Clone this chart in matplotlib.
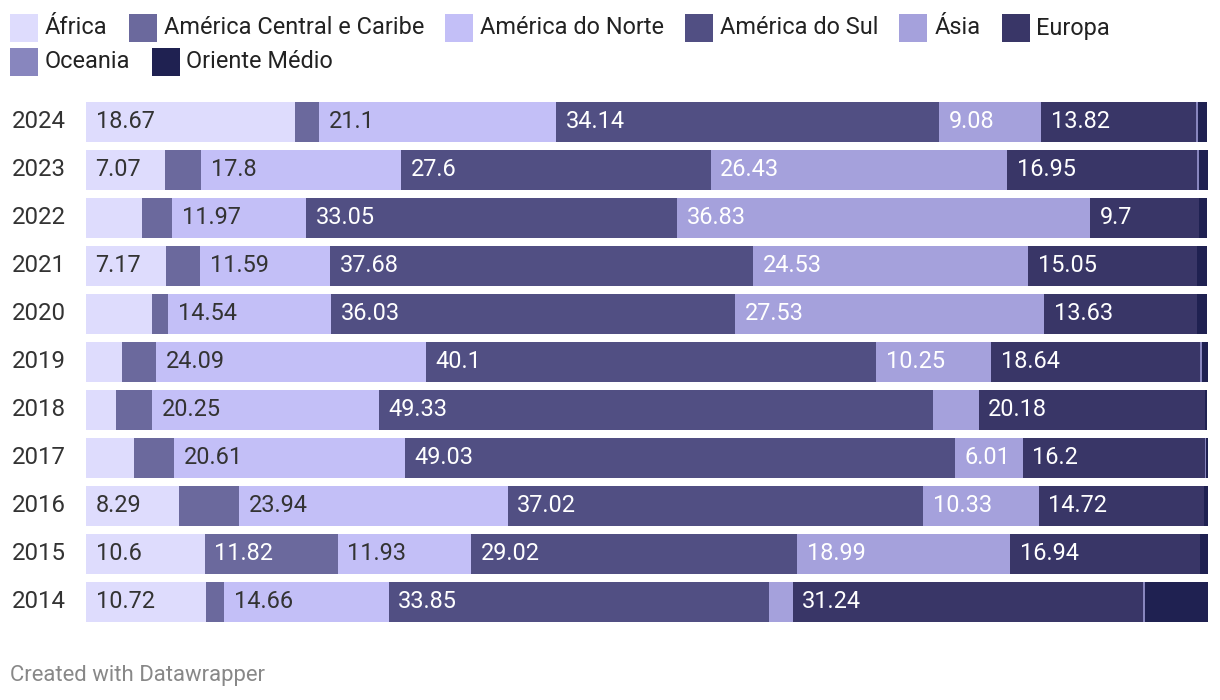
import matplotlib.pyplot as plt
from matplotlib.patches import Rectangle
import numpy as np

plt.rcParams['font.family'] = ['Roboto', 'DejaVu Sans']

years = ['2014', '2015', '2016', '2017', '2018', '2019', '2020', '2021', '2022', '2023', '2024']
regions = ['África', 'América Central e Caribe', 'América do Norte', 'América do Sul',
           'Ásia', 'Europa', 'Oceania', 'Oriente Médio']

# share (%) per region, years 2014 -> 2024
africa   = [10.72, 10.6, 8.29, 4.28, 2.67, 3.21, 5.88, 7.17, 5.0, 7.07, 18.67]
central  = [1.6, 11.82, 5.35, 3.57, 3.21, 3.03, 1.43, 3.03, 2.67, 3.2, 2.14]
north    = [14.66, 11.93, 23.94, 20.61, 20.25, 24.09, 14.54, 11.59, 11.97, 17.8, 21.1]
south    = [33.85, 29.02, 37.02, 49.03, 49.33, 40.1, 36.03, 37.68, 33.05, 27.6, 34.14]
asia     = [2.14, 18.99, 10.33, 6.01, 4.1, 10.25, 27.53, 24.53, 36.83, 26.43, 9.08]
europe   = [31.24, 16.94, 14.72, 16.2, 20.18, 18.64, 13.63, 15.05, 9.7, 16.95, 13.82]
oceania  = [0.18, 0.0, 0.0, 0.12, 0.0, 0.12, 0.0, 0.0, 0.0, 0.15, 0.12]
mideast  = [5.7, 0.7, 0.35, 0.2, 0.2, 0.55, 0.9, 0.9, 0.7, 0.9, 0.8]

series = [africa, central, north, south, asia, europe, oceania, mideast]
colors = ['#dedcfd', '#6b699d', '#c3bff7', '#514f83', '#a5a1dc', '#393667', '#8886be', '#1f2151']
txt_colors = ['#333333', '#ffffff', '#333333', '#ffffff', '#ffffff', '#ffffff', '#ffffff', '#ffffff']

W, H = 1220, 700
fig = plt.figure(figsize=(W / 100, H / 100), dpi=100)
ax = fig.add_axes([86 / W, 1 - 626 / H, 1122 / W, 528 / H])
ax.set_xlim(0, 100)
ax.set_ylim(-0.5, len(years) - 0.5)
ax.axis('off')

fs = 16.9
y = np.arange(len(years))
left = np.zeros(len(years))
for vals, col, tc in zip(series, colors, txt_colors):
    vals = np.array(vals)
    ax.barh(y, vals, left=left, height=40 / 48, color=col, linewidth=0)
    for i, v in enumerate(vals):
        # label only when it fits (Datawrapper hides the rest)
        if v >= 6:
            ax.text(left[i] + 0.85, y[i], f'{v:g}', color=tc, fontsize=fs,
                    va='center', ha='left')
    left += vals

for i, yr in enumerate(years):
    ax.text(-74 / 1122, y[i], yr, transform=ax.get_yaxis_transform(), fontsize=17.3,
            color='#333333', va='center', ha='left')

# legend, flow layout
fig.canvas.draw()
r = fig.canvas.get_renderer()
px, row_y = 10, 28
for name, col in zip(regions, colors):
    t = fig.text(0, 0, name, fontsize=fs, color='#222222', va='center', ha='left')
    tw = t.get_window_extent(r).width
    if px + 35 + tw > W - 8:
        px = 10
        row_y += 34
    fig.patches.append(Rectangle((px / W, 1 - (row_y + 14) / H), 28 / W, 28 / H,
                                 transform=fig.transFigure, color=col, linewidth=0))
    t.set_position(((px + 35) / W, 1 - row_y / H))
    px += 35 + tw + 21

fig.text(10 / W, 1 - 675 / H, 'Created with Datawrapper', fontsize=15.9, color='#888888',
         va='center', ha='left')

fig.savefig('out.png', dpi=100, facecolor='white')
